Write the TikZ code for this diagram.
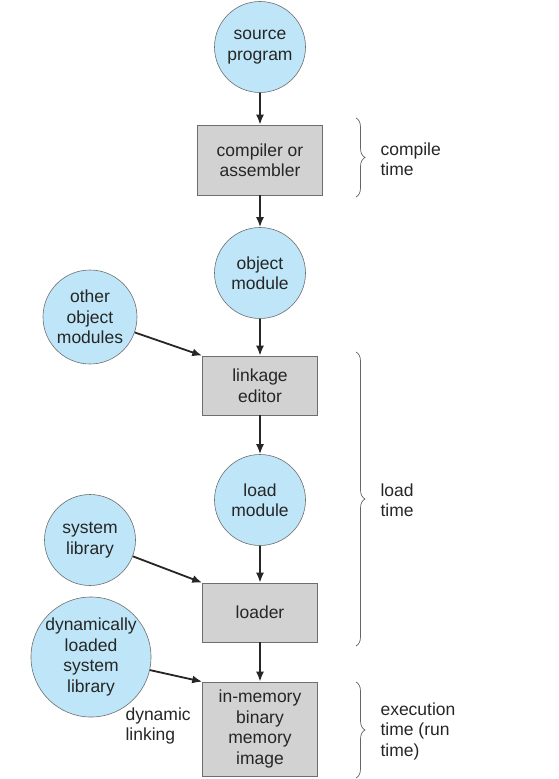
\documentclass[tikz,border=0pt]{standalone}
\usepackage{fontspec}
\setmainfont{Liberation Sans}
\usetikzlibrary{arrows.meta,decorations.pathreplacing}
\definecolor{circblue}{RGB}{190,230,248}
\definecolor{boxgray}{RGB}{210,210,210}
\definecolor{edgegray}{RGB}{110,110,110}
\begin{document}
\begin{tikzpicture}[x=1pt,y=-1pt,
  txt/.style={font=\fontsize{17.5}{20.5}\selectfont, align=center, text=black!85},
  circ/.style={txt, circle, draw=edgegray, line width=0.6pt, fill=circblue, inner sep=0pt},
  stage/.style={txt, rectangle, draw=edgegray, line width=0.6pt, fill=boxgray, inner sep=0pt},
  flow/.style={-{Latex[length=10pt,width=8pt]}, line width=1.8pt, black!85},
  bracestyle/.style={decorate, decoration={brace, amplitude=9pt}, draw=black!60, line width=0.7pt},
  side/.style={txt, align=left, anchor=west}]
\useasboundingbox (0,0) rectangle (559,779);
\node[circ, minimum size=91pt] (src) at (260,47) {source\\program};
\node[stage, minimum width=125pt, minimum height=70pt] (comp) at (260,160) {compiler or\\assembler};
\node[circ, minimum size=91pt] (obj) at (260,273) {object\\module};
\node[circ, minimum size=94pt] (other) at (90,317) {other\\object\\modules};
\node[stage, minimum width=115pt, minimum height=59pt] (link) at (260,385.5) {linkage\\editor};
\node[circ, minimum size=91pt] (loadm) at (260,500) {load\\module};
\node[circ, minimum size=91pt] (syslib) at (90,540) {system\\library};
\node[stage, minimum width=115pt, minimum height=59pt] (loader) at (260,612.5) {loader};
\node[circ, minimum size=112pt] (dyn) at (91,657) {dynamically\\loaded\\system\\library};
\node[stage, minimum width=115pt, minimum height=94pt] (mem) at (260,729) {in-memory\\binary\\memory\\image};
\node[txt, align=left, anchor=north west] (dlink) at (122,704) {dynamic\\linking};

\draw[flow] (src) -- (comp);
\draw[flow] (comp) -- (obj);
\draw[flow] (obj) -- (link);
\draw[flow] (link) -- (loadm);
\draw[flow] (loadm) -- (loader);
\draw[flow] (loader) -- (mem);
\draw[flow] (other) -- (link.north west);
\draw[flow] (syslib) -- (loader.north west);
\draw[flow] (dyn) -- (mem.north west);

\coordinate (b1t) at (356,118);
\coordinate (b1b) at (356,197);
\coordinate (b2t) at (356,352);
\coordinate (b2b) at (356,646);
\coordinate (b3t) at (356,682);
\coordinate (b3b) at (356,778);
\draw[bracestyle] (b1t) -- (b1b);
\draw[bracestyle] (b2t) -- (b2b);
\draw[bracestyle] (b3t) -- (b3b);
\node[side] (l1) at (377,159) {compile\\time};
\node[side] (l2) at (377,500) {load\\time};
\node[side] (l3) at (377,731) {execution\\time (run\\time)};
\end{tikzpicture}
\end{document}
